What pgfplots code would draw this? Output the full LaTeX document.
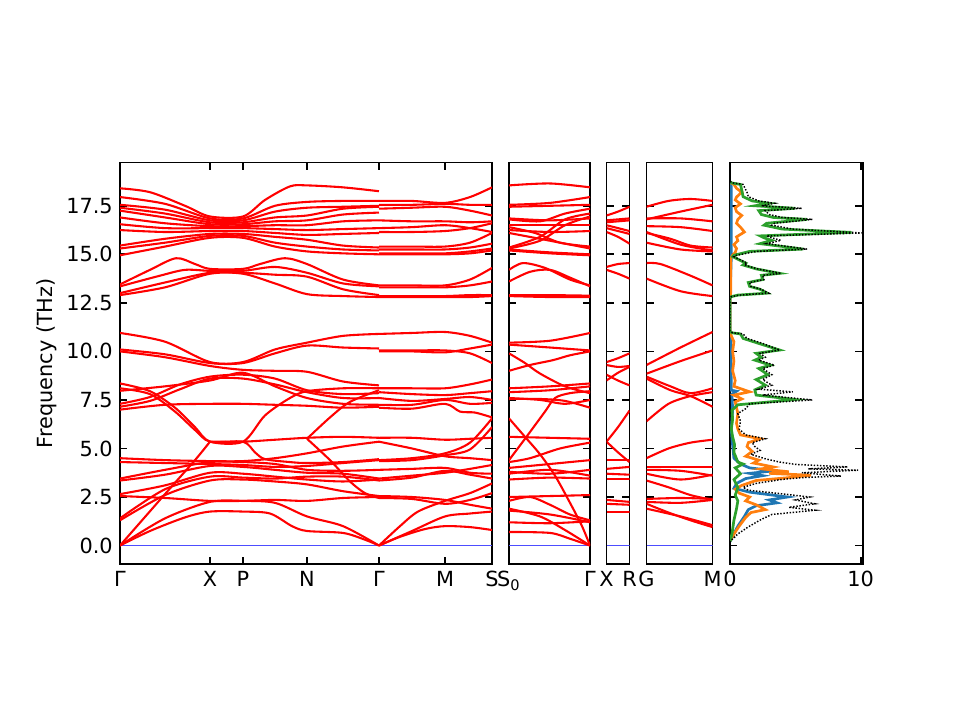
\documentclass[border=0pt]{standalone}
\usepackage{fontspec}
\setmainfont{DejaVu Sans}
\usepackage{pgfplots}
\pgfplotsset{compat=1.18}
\definecolor{tabblue}{HTML}{1F77B4}
\definecolor{taborange}{HTML}{FF7F0E}
\definecolor{tabgreen}{HTML}{2CA02C}
\definecolor{zeroblue}{HTML}{4D4DFF}
\pgfplotsset{
  every axis/.append style={font=\fontsize{10}{12}\selectfont},
  bandax/.style={scale only axis, height=192.72pt, ymin=-0.95, ymax=19.73,
    ytick={0,2.5,5,7.5,10,12.5,15,17.5},
    tick align=inside, xtick pos=both, ytick pos=both,
    xticklabel pos=lower, yticklabel pos=left,
    axis line style={line width=0.8pt},
    every tick/.style={black, line width=0.8pt},
    major tick length=3.5pt,
    /pgf/number format/assume math mode=true,
    yticklabels={}},
  band/.style={red, line width=1pt, smooth, mark=none},
}
\newcommand{\B}[1]{\addplot[band] coordinates {#1};}
\newcommand{\Z}[2]{\addplot[draw=zeroblue, line width=0.7pt, mark=none] coordinates {(#1,0) (#2,0)};}
\begin{document}
\begin{tikzpicture}
\path[use as bounding box] (0,0) rectangle (460.8pt,345.6pt);
% ---------------- Panel 1 ----------------
\begin{axis}[bandax, at={(57.6pt,74.88pt)}, anchor=south west, width=178.56pt,
  xmin=120, xmax=492, xtick={120,210,243,307,379,445,492},
  xticklabels={Γ,X,P,N,Γ,M,S},
  yticklabels={0.0,2.5,5.0,7.5,10.0,12.5,15.0,17.5},
  ylabel={Frequency (THz)},
  ylabel style={at={(axis description cs:-0.196,0.5)}, anchor=center}]
\Z{120}{492}
% top group
\B{(120,18.4)(150,18.2)(185,17.5)(210,16.95)(243,16.95)(265,17.8)(290,18.5)(307,18.55)(343,18.45)(379,18.25)}
\B{(120,17.95)(165,17.6)(210,16.85)(243,16.85)(275,17.5)(307,17.7)(343,17.75)(379,17.75)}
\B{(120,17.55)(165,17.3)(210,16.75)(243,16.75)(275,17.2)(307,17.4)(343,17.45)(379,17.5)}
\B{(120,17.4)(165,17.1)(210,16.65)(243,16.65)(275,16.9)(307,17.0)(343,17.35)(379,17.45)}
\B{(120,17.25)(165,16.9)(210,16.55)(243,16.55)(275,16.7)(307,16.75)(343,17.05)(379,17.15)}
\B{(120,16.9)(165,16.6)(210,16.45)(243,16.45)(275,16.5)(307,16.5)(343,16.7)(379,16.75)}
\B{(120,16.55)(165,16.35)(210,16.35)(243,16.35)(275,16.3)(307,16.25)(343,16.3)(379,16.35)}
\B{(120,16.25)(165,16.15)(210,16.2)(243,16.2)(275,16.1)(307,16.0)(343,16.05)(379,16.1)}
\B{(120,15.45)(165,15.8)(210,16.05)(243,16.05)(275,15.9)(307,15.75)(343,15.45)(379,15.35)}
\B{(120,15.3)(165,15.6)(210,15.95)(243,15.95)(275,15.6)(307,15.4)(343,15.25)(379,15.2)}
\B{(120,14.95)(165,15.4)(210,15.85)(243,15.85)(275,15.4)(307,15.15)(343,15.05)(379,15.0)}
% middle group
\B{(120,13.45)(150,14.2)(176,14.8)(195,14.5)(210,14.25)(243,14.25)(260,14.5)(285,14.8)(307,14.5)(343,13.7)(379,13.4)}
\B{(120,13.35)(160,13.9)(185,14.2)(210,14.15)(243,14.15)(275,14.35)(307,14.05)(343,13.5)(379,13.35)}
\B{(120,13.0)(165,13.55)(210,14.05)(243,14.05)(275,13.95)(307,13.85)(343,13.2)(379,12.9)}
\B{(120,12.9)(165,13.3)(210,14.0)(243,14.0)(275,13.5)(307,12.95)(343,12.85)(379,12.8)}
% 7-11 group
\B{(120,10.95)(165,10.5)(210,9.45)(243,9.45)(275,10.1)(307,10.45)(343,10.8)(379,10.9)}
\B{(120,10.1)(165,9.85)(210,9.4)(243,9.4)(275,9.9)(307,10.3)(343,10.2)(379,10.15)}
\B{(120,10.0)(165,9.7)(210,9.25)(243,9.05)(275,9.0)(307,8.95)(343,8.45)(379,8.25)}
\B{(120,7.3)(150,7.65)(180,8.3)(210,8.7)(243,8.8)(275,8.6)(307,8.0)(343,7.8)(379,7.85)}
\B{(120,7.15)(150,7.45)(180,8.05)(210,8.6)(243,8.6)(275,8.3)(307,7.9)(343,7.6)(379,7.6)}
\B{(120,8.35)(150,7.95)(175,7.1)(195,6.1)(210,5.35)(243,5.35)(265,6.7)(290,7.6)(307,7.95)(343,8.1)(379,8.1)}
\B{(120,8.1)(150,7.8)(175,6.9)(195,5.95)(210,5.35)(243,5.35)(255,4.8)(265,4.45)(290,4.3)(307,4.25)(343,4.3)(379,4.45)}
\B{(120,7.0)(165,7.25)(210,7.3)(243,7.3)(275,7.25)(307,7.2)(343,7.1)(379,7.15)}
\B{(120,7.97)(165,8.2)(210,8.5)(243,8.9)(275,8.2)(307,7.6)(343,7.3)(379,7.25)}
\B{(210,5.35)(243,5.35)(275,5.45)(307,5.55)(343,5.6)(379,5.55)}
\B{(307,5.5)(330,6.6)(350,7.4)(379,8.0)}
\B{(307,5.5)(330,4.4)(350,3.3)(365,2.7)(379,2.45)}
% low group
\B{(120,0)(150,0.75)(185,1.45)(210,1.75)(243,1.75)(270,1.65)(292,1.0)(307,0.75)(343,0.65)(365,0.3)(379,0)}
\B{(120,0)(165,1.4)(210,2.25)(243,2.3)(275,2.2)(307,1.5)(343,1.0)(379,0)}
\B{(120,0)(165,2.65)(195,4.4)(210,5.35)}
\B{(120,1.3)(165,2.6)(210,3.35)(243,3.4)(275,3.3)(307,3.15)(343,2.8)(379,2.55)}
\B{(120,1.4)(165,2.9)(210,3.55)(243,3.5)(275,3.45)(307,3.55)(343,3.55)(379,3.35)}
\B{(120,2.55)(165,2.45)(210,2.3)(243,2.3)(275,2.35)(307,2.3)(343,2.45)(379,2.5)}
\B{(120,2.65)(165,3.1)(210,3.75)(243,3.7)(275,3.55)(307,3.4)(343,3.3)(379,3.4)}
\B{(120,3.35)(165,3.65)(210,4.1)(243,4.05)(275,3.9)(307,3.75)(343,3.7)(379,3.45)}
\B{(120,3.45)(165,3.9)(210,4.3)(243,4.3)(275,4.2)(307,3.9)(343,3.85)(379,3.9)}
\B{(120,4.3)(165,4.25)(210,4.2)(243,4.15)(275,4.05)(307,4.1)(343,4.25)(379,4.4)}
\B{(120,4.5)(165,4.4)(210,4.35)(243,4.35)(275,4.5)(307,4.75)(343,5.1)(379,5.35)}
% ---- Gamma - M - S ----
\B{(379,17.75)(412,17.75)(445,17.65)(470,17.95)(492,18.45)}
\B{(379,17.55)(412,17.55)(445,17.6)(470,17.55)(492,17.55)}
\B{(379,17.35)(412,17.4)(445,17.45)(470,17.25)(492,17.0)}
\B{(379,16.75)(412,16.7)(445,16.7)(470,16.65)(492,16.7)}
\B{(379,16.35)(412,16.4)(445,16.5)(470,16.35)(492,16.15)}
\B{(379,16.15)(412,16.15)(445,16.2)(470,16.35)(492,16.6)}
\B{(379,15.4)(412,15.4)(445,15.4)(470,15.6)(492,16.1)}
\B{(379,15.25)(412,15.25)(445,15.25)(470,15.35)(492,15.55)}
\B{(379,15.05)(412,15.05)(445,15.05)(470,15.15)(492,15.3)}
\B{(379,15.0)(412,15.0)(445,15.0)(470,15.05)(492,15.2)}
\B{(379,13.4)(412,13.4)(445,13.4)(470,13.7)(492,14.3)}
\B{(379,13.3)(412,13.3)(445,13.3)(470,13.4)(492,13.6)}
\B{(379,12.85)(412,12.85)(445,12.85)(470,12.9)(492,12.9)}
\B{(379,12.8)(412,12.8)(445,12.8)(470,12.8)(492,12.85)}
\B{(379,10.9)(412,10.95)(445,11.0)(470,10.8)(492,10.45)}
\B{(379,10.05)(412,10.05)(445,10.05)(470,9.9)(492,9.4)}
\B{(379,10.0)(412,10.0)(445,9.95)(470,10.15)(492,10.35)}
\B{(379,8.1)(412,8.1)(445,8.1)(470,8.3)(492,8.55)}
\B{(379,7.9)(412,7.8)(445,7.75)(470,7.85)(492,7.95)}
\B{(379,7.6)(412,7.45)(445,7.55)(470,7.65)(492,7.5)}
\B{(379,7.25)(412,7.25)(445,7.5)(470,7.3)(492,7.35)}
\B{(379,7.1)(412,7.05)(445,7.3)(460,6.9)(475,6.85)(492,6.6)}
\B{(379,5.55)(412,5.55)(445,5.45)(470,5.5)(492,5.55)}
\B{(379,4.4)(412,4.5)(445,4.75)(470,5.3)(492,6.55)}
\B{(379,4.35)(412,4.4)(445,4.65)(470,4.95)(492,6.1)}
\B{(379,0)(400,0.45)(425,0.85)(445,1.0)(470,0.95)(492,0.8)}
\B{(379,0)(412,0.75)(445,1.5)(470,1.65)(492,1.75)}
\B{(379,0)(400,1.0)(418,1.75)(445,2.3)(470,2.7)(492,3.2)}
\B{(379,2.45)(412,2.4)(445,2.15)(470,2.35)(492,2.7)}
\B{(379,2.55)(412,2.5)(445,2.35)(470,2.1)(492,1.9)}
\B{(379,3.35)(412,3.5)(445,3.85)(470,3.65)(492,3.45)}
\B{(379,3.45)(412,3.6)(445,3.75)(470,3.95)(492,4.15)}
\B{(379,3.9)(412,3.95)(445,4.0)(470,3.75)(492,3.7)}
\B{(379,5.35)(412,5.0)(445,4.6)(470,4.5)(492,4.4)}
\end{axis}
% ---------------- Panel 2 ----------------
\begin{axis}[bandax, at={(244.32pt,74.88pt)}, anchor=south west, width=38.88pt,
  xmin=509, xmax=590, xtick={509,590}, xticklabels={S\textsubscript{0},Γ}]
\Z{509}{590}
\B{(509,18.55)(550,18.65)(590,18.45)}
\B{(509,17.55)(550,17.65)(590,17.95)}
\B{(509,17.45)(550,17.5)(590,17.55)}
\B{(509,16.8)(540,16.7)(565,17.1)(590,17.35)}
\B{(509,16.85)(550,16.75)(590,16.85)}
\B{(509,16.5)(550,16.5)(590,16.5)}
\B{(509,16.25)(550,16.15)(590,16.2)}
\B{(509,15.35)(540,15.9)(565,16.8)(590,17.1)}
\B{(509,15.3)(540,15.7)(565,16.5)(590,16.95)}
\B{(509,16.4)(535,16.1)(560,15.6)(590,15.4)}
\B{(509,16.1)(550,15.7)(590,15.3)}
\B{(509,15.25)(550,15.1)(590,15.0)}
\B{(509,15.2)(550,15.05)(590,14.95)}
\B{(509,14.2)(523,14.55)(545,14.3)(570,13.7)(590,13.4)}
\B{(509,13.6)(530,14.1)(550,14.2)(570,13.8)(590,13.35)}
\B{(509,12.9)(550,12.9)(590,12.87)}
\B{(509,12.85)(550,12.8)(590,12.8)}
\B{(509,10.45)(550,10.55)(590,10.95)}
\B{(509,10.35)(550,10.2)(590,10.05)}
\B{(509,9.9)(525,9.4)(540,8.86)(565,8.2)(590,7.85)}
\B{(509,9.0)(530,9.3)(553,9.55)(570,9.8)(590,10.0)}
\B{(509,7.9)(550,8.0)(590,8.2)}
\B{(509,8.1)(550,8.2)(590,8.35)}
\B{(509,7.55)(540,7.55)(565,7.45)(590,7.1)}
\B{(509,7.6)(540,7.5)(565,7.3)(590,7.5)}
\B{(509,6.55)(525,5.6)(540,4.7)(555,3.6)(570,2.2)(582,1.0)(590,0)}
\B{(509,4.4)(525,5.5)(545,6.9)(555,7.6)(570,7.85)(590,7.95)}
\B{(509,5.6)(550,5.55)(590,5.5)}
\B{(509,4.3)(530,4.5)(560,5.0)(590,5.3)}
\B{(509,4.0)(550,4.2)(590,4.4)}
\B{(509,3.8)(550,3.7)(590,3.9)}
\B{(509,3.7)(550,3.9)(590,3.6)}
\B{(509,3.4)(550,3.5)(590,3.45)}
\B{(509,2.5)(550,2.55)(590,2.6)}
\B{(509,2.3)(530,2.5)(550,2.1)(570,1.6)(590,1.3)}
\B{(509,1.8)(550,1.6)(590,1.2)}
\B{(509,1.2)(550,1.15)(590,1.25)}
\B{(509,0.7)(550,0.65)(570,0.35)(590,0)}
\B{(509,1.9)(540,1.5)(565,0.8)(590,0)}
\end{axis}
% ---------------- Panel 3 ----------------
\begin{axis}[bandax, at={(291.12pt,74.88pt)}, anchor=south west, width=11.04pt,
  xmin=606, xmax=630, xtick={606,630}, xticklabels={X,R}]
\Z{606}{630}
\B{(606,17.0)(618,17.2)(630,17.45)}
\B{(606,16.75)(630,16.85)}
\B{(606,16.65)(630,16.75)}
\B{(606,16.5)(618,16.35)(630,16.2)}
\B{(606,16.35)(630,16.05)}
\B{(606,16.15)(618,15.9)(630,15.55)}
\B{(606,14.35)(618,14.5)(630,14.55)}
\B{(606,14.2)(618,14.0)(630,13.75)}
\B{(606,9.45)(618,9.65)(630,9.9)}
\B{(606,9.3)(618,9.2)(630,9.25)}
\B{(606,8.8)(618,8.5)(630,8.25)}
\B{(606,8.5)(618,8.9)(630,9.2)}
\B{(606,5.35)(618,6.1)(630,6.95)}
\B{(606,5.35)(618,4.8)(630,4.3)}
\B{(606,4.4)(630,4.4)}
\B{(606,3.95)(630,4.05)}
\B{(606,3.7)(630,3.65)}
\B{(606,3.45)(630,3.45)}
\B{(606,2.35)(630,2.25)}
\B{(606,2.15)(630,2.1)}
\B{(606,1.75)(630,1.75)}
\end{axis}
% ---------------- Panel 4 ----------------
\begin{axis}[bandax, at={(310.32pt,74.88pt)}, anchor=south west, width=31.68pt,
  xmin=646, xmax=712, xtick={646,712}, xticklabels={G,M}]
\Z{646}{712}
\B{(646,17.45)(668,17.75)(690,17.85)(712,17.75)}
\B{(646,16.8)(680,17.2)(712,17.55)}
\B{(646,16.85)(680,16.85)(712,16.7)}
\B{(646,16.45)(680,16.4)(712,16.2)}
\B{(646,16.1)(670,15.8)(690,15.45)(712,15.35)}
\B{(646,15.6)(680,15.25)(712,15.15)}
\B{(646,16.15)(680,15.5)(712,15.2)}
\B{(646,14.55)(660,14.5)(690,13.9)(712,13.4)}
\B{(646,13.75)(680,13.1)(712,12.85)}
\B{(646,9.3)(680,10.2)(712,11.0)}
\B{(646,8.85)(680,9.5)(712,10.05)}
\B{(646,8.7)(670,8.2)(690,7.85)(712,8.1)}
\B{(646,8.6)(670,8.0)(690,7.7)(712,7.15)}
\B{(646,6.4)(668,7.3)(690,7.7)(712,7.9)}
\B{(646,4.5)(668,5.0)(690,5.3)(712,5.45)}
\B{(646,4.05)(680,4.05)(712,4.05)}
\B{(646,3.9)(680,3.85)(712,3.6)}
\B{(646,3.7)(680,3.4)(712,3.65)}
\B{(646,3.35)(668,3.0)(690,2.6)(712,2.35)}
\B{(646,2.4)(680,2.45)(712,2.4)}
\B{(646,2.25)(680,2.2)(712,2.35)}
\B{(646,2.15)(668,1.7)(690,1.3)(712,0.95)}
\B{(646,1.9)(680,1.5)(712,1.05)}
\end{axis}
% ---------------- Panel 5 (DOS) ----------------
\begin{axis}[bandax, at={(350.4pt,74.88pt)}, anchor=south west, width=63.7pt,
  xmin=0, xmax=10.15, xtick={0,10}, xticklabels={0,10}]
\addplot[tabblue, line width=1.3pt, mark=none] coordinates {
(0,18.7)(0.1,18.5)(0.1,14.9)(0,12.8)(0,11.0)(0.05,10.8)(0.1,8.0)(0.5,7.95)(0.15,7.8)(0.2,7.0)(0.1,6.0)(0.15,5.5)(0.3,4.5)(0.8,4.2)(1.5,4.0)(3.4,3.85)(1.5,3.72)(2.5,3.6)(1.2,3.45)(0.5,3.2)(0.3,2.95)(1.5,2.75)(4.4,2.5)(3.0,2.35)(3.6,2.2)(2.0,2.05)(1.4,1.85)(1.1,1.5)(0.6,1.0)(0.25,0.55)(0,0.2)};
\addplot[taborange, line width=1.3pt, mark=none] coordinates {
(0,18.7)(0.3,18.6)(0.5,18.4)(0.9,18.2)(0.5,17.95)(0.4,17.8)(0.8,17.6)(0.4,17.4)(0.5,17.2)(0.9,17.0)(0.6,16.8)(0.5,16.6)(0.8,16.4)(1.1,16.15)(0.5,15.9)(0.6,15.7)(0.3,15.5)(0.5,15.3)(0.4,15.1)(0.2,14.95)(0.05,14.8)(0.05,13.0)(0,12.7)
(0,11.0)(0.1,10.8)(0.3,10.5)(0.2,10.0)(0.3,9.5)(0.2,9.0)(0.4,8.5)(0.3,8.2)(1.5,7.92)(0.3,7.75)(0.9,7.55)(0.4,7.4)(0.5,7.1)(0.6,6.8)(0.5,6.3)(0.6,6.0)(0.8,5.7)(2.3,5.5)(1.4,5.3)(1.3,5.1)(1.7,4.85)(1.2,4.6)(2.2,4.4)(1.8,4.25)(3.3,4.05)(2.4,3.95)(4.5,3.8)(3.0,3.72)(6.2,3.62)(4.5,3.5)(2.0,3.35)(0.9,3.1)(0.4,2.9)(0.7,2.7)(1.5,2.5)(1.2,2.3)(2.0,2.1)(2.7,1.85)(1.6,1.7)(1.2,1.45)(0.7,1.0)(0.3,0.6)(0,0.25)};
\addplot[tabgreen, line width=1.3pt, mark=none] coordinates {
(0,18.75)(0.1,18.68)(0.8,18.6)(0.9,18.3)(1.0,17.97)(1.7,17.75)(3.0,17.63)(1.9,17.5)(5.0,17.37)(2.2,17.25)(2.4,17.05)(3.3,16.9)(5.9,16.8)(2.8,16.6)(2.6,16.5)(4.0,16.3)(9.3,16.13)(2.3,15.95)(2.6,15.85)(3.2,15.72)(2.3,15.55)(5.6,15.27)(1.5,15.15)(0.3,14.95)(0.2,14.88)(1.2,14.55)(1.0,14.45)(2.0,14.25)(3.8,14.02)(2.4,13.92)(2.5,13.7)(1.4,13.55)(1.5,13.35)(2.3,13.2)(2.85,13.0)(0.6,12.9)(0.1,12.82)(0,12.75)
(0,11.05)(0.13,10.96)(0.8,10.9)(1.0,10.67)(2.2,10.41)(3.8,10.07)(2.0,9.9)(2.4,9.7)(1.9,9.55)(3.1,9.29)(2.2,9.12)(2.9,8.8)(2.0,8.55)(2.7,8.26)(1.9,8.02)(2.0,7.75)(5.0,7.52)(0.6,7.25)(0.15,6.97)(0.2,6.5)(0.1,6.0)(0.2,5.6)(0.35,5.2)(0.3,4.8)(0.6,4.3)(1.0,4.2)(0.4,4.0)(0.8,3.7)(0.3,3.4)(0.6,3.0)(0.4,2.6)(0.6,2.3)(0.5,1.9)(0.3,1.3)(0.15,0.6)(0,0.2)};
\addplot[black, line width=0.7pt, dash pattern=on 0.7pt off 0.8pt, mark=none] coordinates {
(0,18.75)(0.2,18.68)(1.0,18.6)(1.3,18.2)(1.4,17.97)(2.2,17.75)(3.4,17.63)(2.4,17.5)(5.5,17.37)(2.7,17.25)(3.0,17.05)(4.0,16.9)(6.3,16.8)(3.4,16.6)(3.2,16.5)(4.8,16.3)(10.1,16.1)(2.8,15.95)(3.2,15.85)(3.9,15.72)(2.8,15.55)(5.9,15.27)(2.0,15.15)(0.5,14.95)(0.3,14.88)(1.3,14.55)(1.1,14.45)(2.1,14.25)(3.9,14.02)(2.5,13.92)(2.6,13.7)(1.5,13.55)(1.6,13.35)(2.4,13.2)(2.95,13.0)(0.7,12.9)(0.1,12.82)(0,12.75)
(0,11.05)(0.2,10.96)(1.0,10.9)(1.3,10.67)(2.5,10.41)(3.8,10.07)(2.3,9.9)(2.7,9.7)(2.2,9.55)(3.4,9.29)(2.5,9.12)(3.2,8.8)(2.5,8.55)(3.2,8.26)(2.2,8.05)(4.8,7.92)(2.5,7.75)(6.3,7.5)(1.5,7.3)(1.2,7.05)(0.6,6.8)(0.8,6.4)(0.7,6.0)(1.2,5.7)(2.7,5.5)(1.7,5.3)(1.9,5.1)(2.3,4.9)(1.6,4.7)(2.8,4.45)(3.8,4.3)(5.0,4.18)(9.0,4.05)(6.0,3.95)(9.8,3.88)(5.5,3.75)(8.5,3.58)(5.5,3.5)(3.9,3.4)(2.0,3.2)(1.0,3.0)(1.4,2.85)(3.5,2.7)(6.1,2.5)(5.0,2.35)(6.5,2.15)(4.5,1.97)(6.5,1.82)(3.2,1.6)(2.4,1.35)(1.4,0.96)(0.6,0.6)(0,0.2)};
\end{axis}
\end{tikzpicture}
\end{document}
